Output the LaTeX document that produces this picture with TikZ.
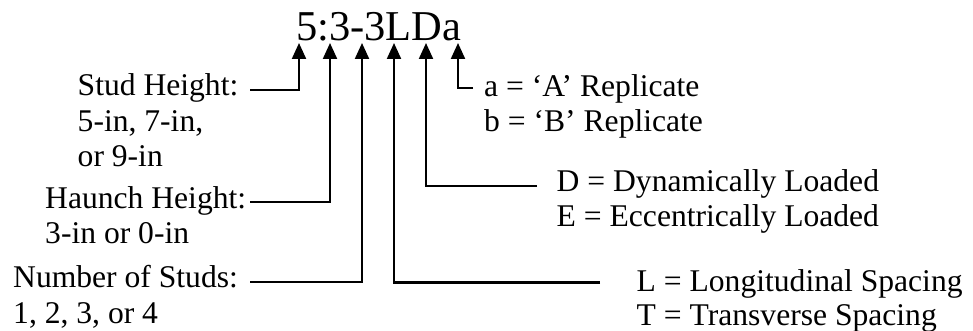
\documentclass[tikz,border=0pt]{standalone}
\usepackage{fontspec}
\setmainfont{Liberation Serif}
\usetikzlibrary{arrows.meta}
\begin{document}
\begin{tikzpicture}[x=1pt,y=-1pt,
  lbl/.style={anchor=base west,inner sep=0pt,font=\fontsize{31.6}{35}\selectfont},
  codetext/.style={anchor=base west,inner sep=0pt,font=\fontsize{42.5}{48}\selectfont},
  conn/.style={line width=2.2pt,-{Triangle[width=14pt,length=16pt]}}]
\useasboundingbox (0,0) rectangle (973,331);
% code
\node[codetext] (code) at (296,40.5) {5:3-3LDa};
% arrow tips
\coordinate (t1) at (299,43);
\coordinate (t2) at (330,43);
\coordinate (t3) at (362,43);
\coordinate (t4) at (394,43);
\coordinate (t5) at (426,43);
\coordinate (t6) at (458,43);
% left labels
\node[lbl] (stud1) at (77.5,96) {Stud Height:};
\node[lbl] (stud2) at (77.5,131.5) {5-in, 7-in,};
\node[lbl] (stud3) at (77.5,166.8) {or 9-in};
\node[lbl] (haun1) at (45,208) {Haunch Height:};
\node[lbl] (haun2) at (45,243.3) {3-in or 0-in};
\node[lbl] (num1) at (13,287.5) {Number of Studs:};
\node[lbl] (num2) at (13,323) {1, 2, 3, or 4};
% right labels
\node[lbl] (rep1) at (484,96.5) {a = ‘A’ Replicate};
\node[lbl] (rep2) at (484,131.5) {b = ‘B’ Replicate};
\node[lbl] (load1) at (556.5,191.7) {D = Dynamically Loaded};
\node[lbl] (load2) at (556.5,226.7) {E = Eccentrically Loaded};
\node[lbl] (sp1) at (636.5,291.5) {L = Longitudinal Spacing};
\node[lbl] (sp2) at (636.5,325.5) {T = Transverse Spacing};
% free ends
\coordinate (s1) at (250,90);
\coordinate (s2) at (250,201.7);
\coordinate (s3) at (250,282);
\coordinate (s4) at (600,282.5);
\coordinate (s5) at (537,186);
\coordinate (s6) at (473,88);
% connectors
\draw[conn] (s1) -| (t1);
\draw[conn] (s2) -| (t2);
\draw[conn] (s3) -| (t3);
\draw[conn] (s4) -| (t4);
\draw[conn] (s5) -| (t5);
\draw[conn] (s6) -| (t6);
\end{tikzpicture}
\end{document}
